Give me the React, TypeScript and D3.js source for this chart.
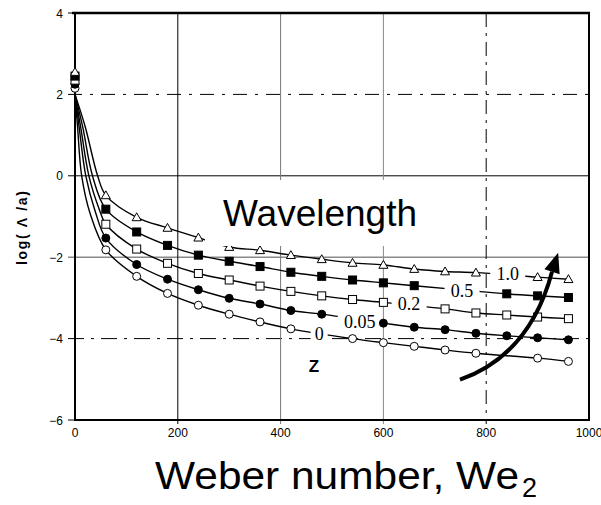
import React from "react";
import * as d3 from "d3";

// Weber numbers where the measured points sit
const weber = [60, 120, 180, 240, 300, 360, 420, 480, 540, 600, 660, 720, 780, 840, 900, 960];

// log(Λ/a), null where the point is hidden under a label
const z10 = [-0.48, -1.02, -1.28, -1.52, -1.75, -1.83, -1.95, -2.05, -2.14, -2.19, -2.29, -2.35, -2.38, null, -2.49, -2.54];
const z05 = [-0.82, -1.38, -1.71, -1.95, -2.1, -2.23, -2.37, -2.47, -2.56, -2.63, -2.7, null, null, -2.9, -2.95, -2.99];
const z02 = [-1.19, -1.8, -2.15, -2.4, -2.56, -2.71, -2.84, -2.95, -3.04, -3.11, null, -3.27, -3.37, -3.42, -3.47, -3.51];
const z005 = [-1.53, -2.18, -2.54, -2.8, -3.01, -3.15, -3.31, -3.4, null, -3.62, -3.72, -3.78, -3.87, -3.93, -3.98, -4.03];
const z0 = [-1.82, -2.47, -2.89, -3.18, -3.4, -3.59, -3.76, null, -4.0, -4.1, -4.19, -4.28, -4.36, null, -4.48, -4.56];

// steep start of each fitted curve (We, log)
const z10Head = [[0, 2.0], [20, 1.2], [44, 0]];
const z05Head = [[0, 2.0], [15, 1.2], [34, 0]];
const z02Head = [[0, 2.0], [11, 1.2], [27, 0], [48, -0.85]];
const z005Head = [[0, 2.0], [8, 1.2], [21, 0], [40, -0.9]];
const z0Head = [[0, 2.0], [5, 1.2], [13, 0], [30, -0.95]];

// the stacked points at We = 0
const startValues = [2.55, 2.45, 2.35, 2.25, 2.15];

const zNames = ["1.0", "0.5", "0.2", "0.05", "0"];
const xTicks = [0, 200, 400, 600, 800, 1000];
const yTicks = [4, 2, 0, -2, -4, -6];

const series = [
  { name: zNames[0], values: z10, head: z10Head, start: startValues[0], marker: "tri", label: [842, -2.41] },
  { name: zNames[1], values: z05, head: z05Head, start: startValues[1], marker: "sqFill", label: [753, -2.83] },
  { name: zNames[2], values: z02, head: z02Head, start: startValues[2], marker: "sqOpen", label: [650, -3.14] },
  { name: zNames[3], values: z005, head: z005Head, start: startValues[3], marker: "dotFill", label: [554, -3.59] },
  { name: zNames[4], values: z0, head: z0Head, start: startValues[4], marker: "dotOpen", label: [475, -3.88] },
];

const W = 601, H = 505;

function Marker({ kind, cx, cy }: { kind: string; cx: number; cy: number }) {
  if (kind === "tri") {
    const r = 4.5;
    return <path d={`M${cx},${cy - r}L${cx + r},${cy + r * 0.75}L${cx - r},${cy + r * 0.75}Z`} fill="#fff" stroke="#000" strokeWidth={1} />;
  }
  if (kind === "sqFill" || kind === "sqOpen") {
    const s = 8;
    return <rect x={cx - s / 2} y={cy - s / 2} width={s} height={s} fill={kind === "sqFill" ? "#000" : "#fff"} stroke="#000" strokeWidth={1} />;
  }
  return <circle cx={cx} cy={cy} r={4} fill={kind === "dotFill" ? "#000" : "#fff"} stroke="#000" strokeWidth={1} />;
}

export default function App() {
  const x = d3.scaleLinear().domain([0, 1000]).range([75, 589]);
  const y = d3.scaleLinear().domain([-6, 4]).range([420, 13]);

  const line = d3.line<number[]>()
    .x(d => x(d[0]))
    .y(d => y(d[1]))
    .curve(d3.curveCatmullRom.alpha(0.5));

  const pts = (vals: (number | null)[]) =>
    weber.map((w, i) => [w, vals[i]]).filter(d => d[1] !== null) as number[][];

  // grid styles: y = 2, 0, -2, -4 and x = 200, 400, 600, 800
  const hGrid = [
    { v: 2, stroke: "#000", dash: "14 8 3 8", w: 1 },
    { v: 0, stroke: "#000", dash: "", w: 1 },
    { v: -2, stroke: "#8a8a8a", dash: "", w: 1.6 },
    { v: -4, stroke: "#000", dash: "16 7 3 7", w: 1 },
  ];
  const vGrid = [
    { v: 200, stroke: "#000", dash: "", w: 1 },
    { v: 400, stroke: "#777", dash: "", w: 1 },
    { v: 600, stroke: "#888", dash: "", w: 1 },
    { v: 800, stroke: "#000", dash: "14 6 3 6", w: 1 },
  ];

  // curved arrow (We, log)
  const arrowTail = [749, -5.01], arrowCtrl = [885, -4.4], arrowEnd = [928, -2.36], arrowTip = [940, -1.89];
  const ex = x(arrowEnd[0]), ey = y(arrowEnd[1]), tx = x(arrowTip[0]), ty = y(arrowTip[1]);
  const dx = tx - ex, dy = ty - ey, len = Math.hypot(dx, dy);
  const nx = -dy / len * 8, ny = dx / len * 8;
  const bx = tx - dx / len * 20, by = ty - dy / len * 20;

  return (
    <svg width={W} height={H} style={{ position: "absolute", left: 0, top: 0, background: "#fff" }}>
      <rect width={W} height={H} fill="#fff" />
      {/* grid */}
      {hGrid.map(g => (
        <line key={"h" + g.v} x1={68} x2={589} y1={y(g.v)} y2={y(g.v)} stroke={g.stroke} strokeWidth={g.w} strokeDasharray={g.dash} />
      ))}
      {vGrid.map(g => (
        <line key={"v" + g.v} x1={x(g.v)} x2={x(g.v)} y1={13} y2={424} stroke={g.stroke} strokeWidth={g.w} strokeDasharray={g.dash} />
      ))}
      {/* frame */}
      <line x1={72} x2={590} y1={13} y2={13} stroke="#000" strokeWidth={2.5} />
      <line x1={75} x2={75} y1={12} y2={421} stroke="#000" strokeWidth={2} />
      <line x1={589} x2={589} y1={12} y2={421} stroke="#000" strokeWidth={2} />
      <line x1={74} x2={590} y1={420} y2={420} stroke="#000" strokeWidth={2} />
      {[4, -6].map(v => (
        <line key={"t" + v} x1={68} x2={75} y1={y(v)} y2={y(v)} stroke="#000" strokeWidth={1} />
      ))}

      {/* y tick labels */}
      {yTicks.map(v => (
        <text key={"yl" + v} x={63} y={y(v) + 4.5} textAnchor="end" fontFamily="Liberation Sans, Arial, sans-serif" fontSize={12}>
          {v < 0 ? "\u2212" + Math.abs(v) : v}
        </text>
      ))}
      {/* x tick labels */}
      {xTicks.map(v => (
        <text key={"xl" + v} x={x(v)} y={437} textAnchor="middle" fontFamily="Liberation Sans, Arial, sans-serif" fontSize={12}>
          {v}
        </text>
      ))}

      {/* fitted curves */}
      {series.map(s => (
        <path key={"c" + s.name} d={line([...s.head, ...pts(s.values)]) || ""} fill="none" stroke="#000" strokeWidth={1.4} />
      ))}

      {/* white gaps for the z labels */}
      {series.map(s => {
        const w = s.name.length * 9 + 8;
        return <rect key={"b" + s.name} x={x(s.label[0]) - w / 2} y={y(s.label[1]) - 8} width={w} height={16} fill="#fff" />;
      })}

      {/* markers */}
      {series.map(s => (
        <g key={"m" + s.name}>
          {pts(s.values).map(d => <Marker key={d[0]} kind={s.marker} cx={x(d[0])} cy={y(d[1])} />)}
        </g>
      ))}
      {[...series].reverse().map(s => (
        <Marker key={"s" + s.name} kind={s.marker} cx={x(0)} cy={y(s.start)} />
      ))}

      {/* z labels */}
      {series.map(s => (
        <text key={"l" + s.name} x={x(s.label[0])} y={y(s.label[1]) + 6.5} textAnchor="middle" fontFamily="Liberation Serif, Times New Roman, serif" fontSize={18}>
          {s.name}
        </text>
      ))}
      <text x={x(465)} y={y(-4.67) + 6} textAnchor="middle" fontFamily="Liberation Sans, Arial, sans-serif" fontWeight="bold" fontSize={17}>Z</text>

      {/* arrow */}
      <path d={`M${x(arrowTail[0])},${y(arrowTail[1])}Q${x(arrowCtrl[0])},${y(arrowCtrl[1])} ${bx},${by}`} fill="none" stroke="#000" strokeWidth={4} />
      <path d={`M${tx},${ty}L${bx + nx},${by + ny}L${bx - nx},${by - ny}Z`} fill="#000" />

      {/* Wavelength annotation */}
      <rect x={205} y={180} width={240} height={66} fill="#fff" />
      <text x={223} y={226} fontFamily="Liberation Sans, Arial, sans-serif" fontSize={37}>Wavelength</text>

      {/* axis titles */}
      <text transform="translate(27,228) rotate(-90)" textAnchor="middle" fontFamily="Liberation Sans, Arial, sans-serif" fontWeight="bold" fontSize={14} textLength={74} lengthAdjust="spacing">
        log( Λ /a)
      </text>
      <text x={155} y={489} fontFamily="Liberation Sans, Arial, sans-serif" fontSize={39} textLength={364} lengthAdjust="spacingAndGlyphs">
        Weber number, We
      </text>
      <text x={522} y={497} fontFamily="Liberation Sans, Arial, sans-serif" fontSize={27}>2</text>
    </svg>
  );
}
